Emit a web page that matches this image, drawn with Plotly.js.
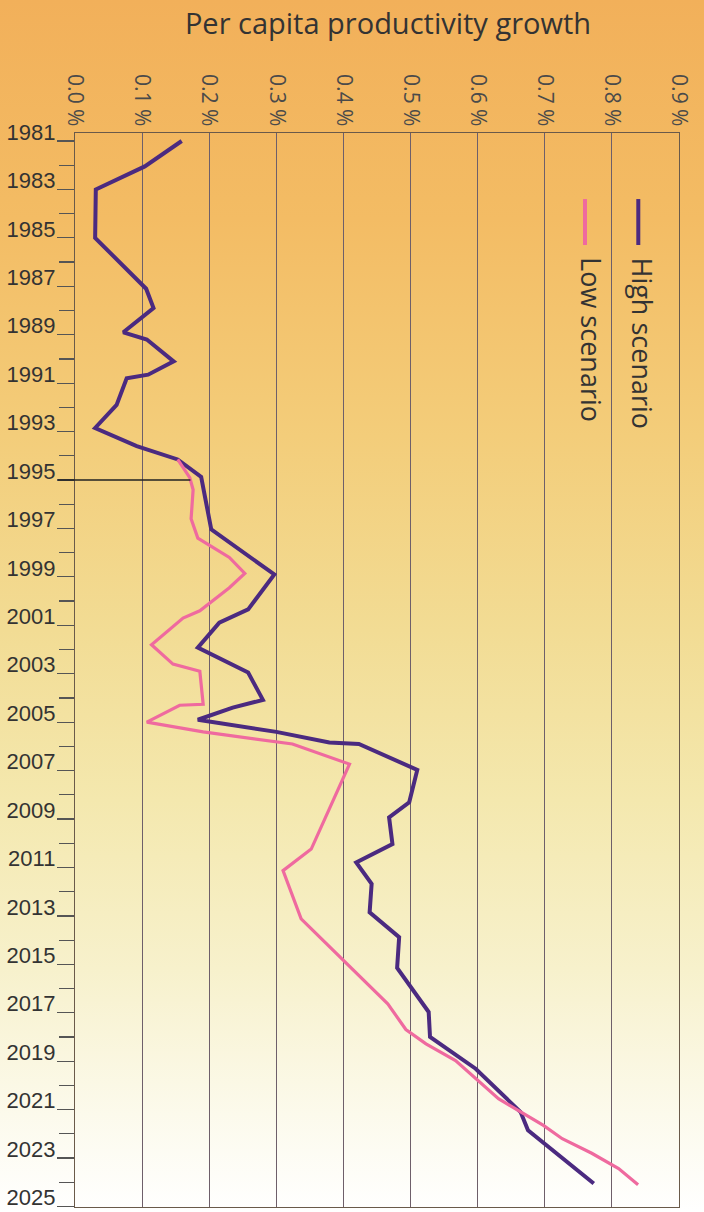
<!DOCTYPE html>
<html><head><meta charset="utf-8">
<script src="https://cdn.plot.ly/plotly-3.0.1.min.js"></script>
<style>
html,body{margin:0;padding:0;width:704px;height:1212px;overflow:hidden;
background:linear-gradient(to bottom,#F2B05A 0%,#F3BC64 18%,#F3CD7A 36%,#F2DC94 52%,#F4E8AE 66%,#F7F1CC 80%,#FCFAEC 92%,#FFFFFF 100%);}
#chart{width:704px;height:1212px;}
</style></head><body><div id="chart"></div>
<script>
const chartTitle = 'Per capita productivity growth';
const seriesNames = ['High scenario', 'Low scenario'];

const highYears = [1981.0, 1982.05, 1983.0, 1985.0, 1987.1, 1987.9, 1988.9, 1989.2, 1990.1, 1990.65, 1990.8, 1991.9, 1992.85, 1993.6, 1994.15, 1994.87, 1997.04, 1998.9, 2000.34, 2000.89, 2001.92, 2002.95, 2004.08, 2004.4, 2004.9, 2005.4, 2005.84, 2005.9, 2006.97, 2008.31, 2008.93, 2010.03, 2010.79, 2011.68, 2012.85, 2013.88, 2015.15, 2016.97, 2018.0, 2019.31, 2021.1, 2021.85, 2024.05];
const highValues = [0.159, 0.104, 0.031, 0.030, 0.106, 0.117, 0.072, 0.107, 0.147, 0.109, 0.077, 0.062, 0.030, 0.092, 0.153, 0.188, 0.203, 0.297, 0.258, 0.215, 0.183, 0.258, 0.280, 0.235, 0.183, 0.300, 0.379, 0.423, 0.510, 0.498, 0.468, 0.473, 0.419, 0.442, 0.439, 0.483, 0.480, 0.527, 0.529, 0.597, 0.664, 0.675, 0.773];

const lowYears = [1994.15, 1994.9, 1995.4, 1996.6, 1997.4, 1998.2, 1998.86, 1999.45, 2000.4, 2000.7, 2001.8, 2002.6, 2002.9, 2004.26, 2004.3, 2005.0, 2005.4, 2005.9, 2006.73, 2010.24, 2011.13, 2013.12, 2016.63, 2017.69, 2018.28, 2018.97, 2020.55, 2021.65, 2022.2, 2022.8, 2023.43, 2024.1];
const lowValues = [0.153, 0.171, 0.176, 0.173, 0.183, 0.230, 0.253, 0.230, 0.186, 0.161, 0.114, 0.146, 0.186, 0.191, 0.156, 0.107, 0.191, 0.324, 0.409, 0.352, 0.310, 0.337, 0.466, 0.493, 0.523, 0.567, 0.631, 0.698, 0.726, 0.770, 0.810, 0.839];

const xTickValues = [0.0, 0.1, 0.2, 0.3, 0.4, 0.5, 0.6, 0.7, 0.8, 0.9];
const xTickLabels = ['0.0 %', '0.1 %', '0.2 %', '0.3 %', '0.4 %', '0.5 %', '0.6 %', '0.7 %', '0.8 %', '0.9 %'];
const yLabelYears = [1981, 1983, 1985, 1987, 1989, 1991, 1993, 1995, 1997, 1999, 2001, 2003, 2005, 2007, 2009, 2011, 2013, 2015, 2017, 2019, 2021, 2023, 2025];
const yMinorYears = [1982, 1984, 1986, 1988, 1990, 1992, 1994, 1996, 1998, 2000, 2002, 2004, 2006, 2008, 2010, 2012, 2014, 2016, 2018, 2020, 2022, 2024];
const xRange = [0, 0.9];
const yRange = [2025.02, 1980.67];
const splitYear = 1995;
const splitValue = 0.172;

const highColor = '#4B2A80';
const lowColor = '#EF6A9F';
const gridColor = '#6E5F6A';

const traces = [
  {x: highValues, y: highYears, name: seriesNames[0], type: 'scatter', mode: 'lines',
   line: {color: highColor, width: 4, shape: 'linear'}},
  {x: lowValues, y: lowYears, name: seriesNames[1], type: 'scatter', mode: 'lines',
   line: {color: lowColor, width: 3.2, shape: 'linear'}}
];

const layout = {
  width: 704, height: 1212,
  margin: {l: 75, r: 25, t: 133, b: 5},
  paper_bgcolor: 'rgba(0,0,0,0)',
  plot_bgcolor: 'rgba(0,0,0,0)',
  showlegend: false,
  title: {text: chartTitle, font: {family: 'Open Sans', size: 29, color: '#333333'},
          x: 388/704, xref: 'container', xanchor: 'center',
          y: 1 - 24/1212, yref: 'container', yanchor: 'middle'},
  xaxis: {side: 'top', range: xRange, tickmode: 'array', tickvals: xTickValues, ticktext: xTickLabels,
          tickangle: 90, tickfont: {family: 'Open Sans', size: 21, color: '#4a4a4a'},
          showgrid: true, gridcolor: gridColor, gridwidth: 1,
          zeroline: false, showline: true, mirror: true, linecolor: '#6a5a4a', linewidth: 1.2,
          ticks: '', ticklabelstandoff: -2},
  yaxis: {range: yRange, tickmode: 'array', tickvals: yLabelYears, ticktext: yLabelYears.map(String),
          tickfont: {family: 'Liberation Sans, Arial, sans-serif', size: 22, color: '#333333'},
          ticks: 'outside', ticklen: 17, tickwidth: 1.2, tickcolor: '#555555',
          minor: {tickmode: 'array', tickvals: yMinorYears, ticks: 'outside', ticklen: 15, tickwidth: 1.2, tickcolor: '#555555', showgrid: false},
          showgrid: false, zeroline: false, showline: true, mirror: true, linecolor: '#6a5a4a', linewidth: 1.2,
          ticklabelshift: 9, ticklabelstandoff: -3},
  shapes: [
    {type: 'line', xref: 'paper', yref: 'y', x0: -17/604, x1: (splitValue - xRange[0])/(xRange[1]-xRange[0]),
     y0: splitYear, y1: splitYear, line: {color: '#222222', width: 1.6}, layer: 'above'},
    {type: 'line', xref: 'paper', yref: 'paper', x0: 0.9326, x1: 0.9326, y0: 0.9385, y1: 0.8957,
     line: {color: highColor, width: 4}},
    {type: 'line', xref: 'paper', yref: 'paper', x0: 0.8444, x1: 0.8444, y0: 0.9385, y1: 0.8957,
     line: {color: lowColor, width: 4}}
  ],
  annotations: [
    {text: seriesNames[0], xref: 'paper', yref: 'paper', x: 0.9396, y: 0.8864, xanchor: 'center', yanchor: 'top',
     textangle: 90, showarrow: false, font: {family: 'Open Sans', size: 27, color: '#333333'}},
    {text: seriesNames[1], xref: 'paper', yref: 'paper', x: 0.855, y: 0.8864, xanchor: 'center', yanchor: 'top',
     textangle: 90, showarrow: false, font: {family: 'Open Sans', size: 27, color: '#333333'}}
  ]
};

Plotly.newPlot('chart', traces, layout, {displayModeBar: false, staticPlot: true});
</script>
</body></html>
